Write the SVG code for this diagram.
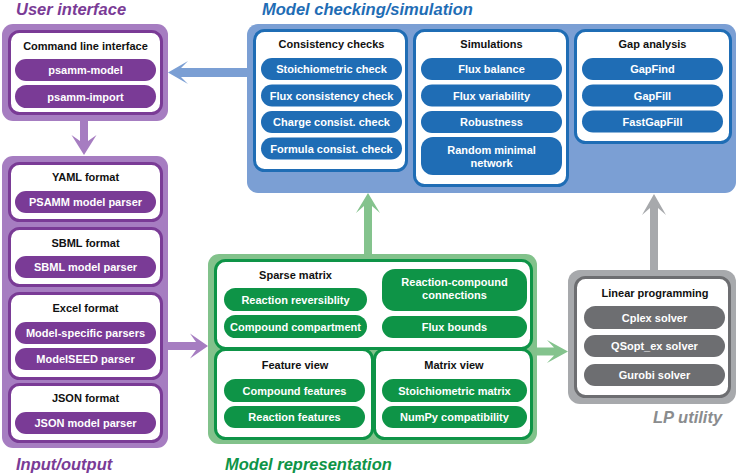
<svg xmlns="http://www.w3.org/2000/svg" width="739" height="475" viewBox="0 0 739 475">
<style>
text{font-family:"Liberation Sans",Arial,sans-serif;font-weight:bold;}
.lbl{font-size:16.5px;font-style:italic;}
.ttl{font-size:11px;fill:#111;text-anchor:middle;}
.pt{font-size:11px;fill:#fff;text-anchor:middle;}
.ring{fill:#fff;stroke-width:3;}
.pu .ring{stroke:#7a3b96;} .pu .pill{fill:#7a3b96;} .pu .outer{fill:#a67dc1;}
.bl .ring{stroke:#1f6db5;} .bl .pill{fill:#1f6db5;} .bl .outer{fill:#7b9fd4;}
.gr .ring{stroke:#0e9447;} .gr .pill{fill:#0e9447;} .gr .outer{fill:#82c28b;}
.gy .ring{stroke:#6d6e71;} .gy .pill{fill:#6d6e71;} .gy .outer{fill:#a7a9ac;}
</style>

<g id="connectors">
  <polygon fill="#7b9fd4" points="168,72.5 188,61 181,68 247,68 247,77 181,77 188,84"/>
  <polygon fill="#a67dc1" points="84,155 96.5,135 88,141 88,121 80,121 80,141 71.5,135"/>
  <polygon fill="#a67dc1" points="208,346 190,333.5 196,342 168,342 168,350 196,350 190,358.5"/>
  <polygon fill="#84c38d" points="368,193 380,213 372,206 372,254 364,254 364,206 356,213"/>
  <polygon fill="#84c38d" points="568,351.5 547,340 554,347.5 537,347.5 537,355.5 554,355.5 547,363"/>
  <polygon fill="#a7a9ac" points="654,194 666,215 658,208 658,270 650,270 650,208 642,215"/>
</g>

<g id="user-interface" class="pu">
  <text class="lbl" x="16" y="15" fill="#7a3b96">User interface</text>
  <rect class="outer" x="2" y="24" width="166" height="97" rx="11"/>
  <rect class="ring" x="9.5" y="31.5" width="152" height="82" rx="10"/>
  <text class="ttl" x="85.5" y="50">Command line interface</text>
  <rect class="pill" x="15" y="59" width="141" height="22" rx="11"/>
  <text class="pt" x="85.5" y="74">psamm-model</text>
  <rect class="pill" x="15" y="85" width="141" height="23" rx="11.5"/>
  <text class="pt" x="85.5" y="100.5">psamm-import</text>
</g>

<g id="input-output" class="pu">
  <text class="lbl" x="16" y="470" fill="#7a3b96">Input/output</text>
  <rect class="outer" x="2" y="156" width="166" height="292" rx="11"/>
  <g id="yaml">
    <rect class="ring" x="9.5" y="163.5" width="152" height="57" rx="10"/>
    <text class="ttl" x="85.5" y="181">YAML format</text>
    <rect class="pill" x="15" y="191" width="141" height="22" rx="11"/>
    <text class="pt" x="85.5" y="206">PSAMM model parser</text>
  </g>
  <g id="sbml">
    <rect class="ring" x="9.5" y="228.5" width="152" height="57" rx="10"/>
    <text class="ttl" x="85.5" y="247">SBML format</text>
    <rect class="pill" x="15" y="256" width="141" height="22" rx="11"/>
    <text class="pt" x="85.5" y="271">SBML model parser</text>
  </g>
  <g id="excel">
    <rect class="ring" x="9.5" y="293.5" width="152" height="85" rx="10"/>
    <text class="ttl" x="85.5" y="312">Excel format</text>
    <rect class="pill" x="15" y="322" width="141" height="22" rx="11"/>
    <text class="pt" x="85.5" y="337">Model-specific parsers</text>
    <rect class="pill" x="15" y="348" width="141" height="22" rx="11"/>
    <text class="pt" x="85.5" y="363">ModelSEED parser</text>
  </g>
  <g id="json">
    <rect class="ring" x="9.5" y="384.5" width="152" height="57" rx="10"/>
    <text class="ttl" x="85.5" y="402">JSON format</text>
    <rect class="pill" x="15" y="412" width="141" height="22" rx="11"/>
    <text class="pt" x="85.5" y="427">JSON model parser</text>
  </g>
</g>

<g id="model-checking" class="bl">
  <text class="lbl" x="262" y="15" fill="#1f6db5">Model checking/simulation</text>
  <rect class="outer" x="247" y="24" width="489" height="169" rx="11"/>
  <g id="consistency">
    <rect class="ring" x="254.5" y="30.5" width="152" height="140" rx="10"/>
    <text class="ttl" x="331.5" y="48">Consistency checks</text>
    <rect class="pill" x="261" y="58" width="141" height="22" rx="11"/>
    <text class="pt" x="331.5" y="73">Stoichiometric check</text>
    <rect class="pill" x="261" y="84.5" width="141" height="22" rx="11"/>
    <text class="pt" x="331.5" y="99.5">Flux consistency check</text>
    <rect class="pill" x="261" y="111" width="141" height="22" rx="11"/>
    <text class="pt" x="331.5" y="126">Charge consist. check</text>
    <rect class="pill" x="261" y="137.5" width="141" height="22" rx="11"/>
    <text class="pt" x="331.5" y="152.5">Formula consist. check</text>
  </g>
  <g id="simulations">
    <rect class="ring" x="414.5" y="30.5" width="153" height="155" rx="10"/>
    <text class="ttl" x="491.5" y="48">Simulations</text>
    <rect class="pill" x="421" y="58" width="141" height="22" rx="11"/>
    <text class="pt" x="491.5" y="73">Flux balance</text>
    <rect class="pill" x="421" y="84.5" width="141" height="22" rx="11"/>
    <text class="pt" x="491.5" y="99.5">Flux variability</text>
    <rect class="pill" x="421" y="111" width="141" height="22" rx="11"/>
    <text class="pt" x="491.5" y="126">Robustness</text>
    <rect class="pill" x="421" y="137" width="141" height="38" rx="12"/>
    <text class="pt" x="491.5" y="154">Random minimal</text>
    <text class="pt" x="491.5" y="167">network</text>
  </g>
  <g id="gap-analysis">
    <rect class="ring" x="575.5" y="30.5" width="155" height="112" rx="10"/>
    <text class="ttl" x="652.5" y="48">Gap analysis</text>
    <rect class="pill" x="582" y="58" width="141" height="22" rx="11"/>
    <text class="pt" x="652.5" y="73">GapFind</text>
    <rect class="pill" x="582" y="84.5" width="141" height="22" rx="11"/>
    <text class="pt" x="652.5" y="99.5">GapFill</text>
    <rect class="pill" x="582" y="110.5" width="141" height="22" rx="11"/>
    <text class="pt" x="652.5" y="125.5">FastGapFill</text>
  </g>
</g>

<g id="model-representation" class="gr">
  <text class="lbl" x="225" y="470" fill="#0e9447">Model representation</text>
  <rect class="outer" x="208" y="254" width="329" height="190" rx="11"/>
  <g id="sparse-matrix">
    <rect class="ring" x="215.5" y="260.5" width="316" height="88" rx="10"/>
    <text class="ttl" x="295.5" y="279">Sparse matrix</text>
    <rect class="pill" x="224" y="288" width="143" height="23" rx="11.5"/>
    <text class="pt" x="295.5" y="303.5">Reaction reversiblity</text>
    <rect class="pill" x="224" y="315" width="143" height="23" rx="11.5"/>
    <text class="pt" x="295.5" y="330.5">Compound compartment</text>
    <rect class="pill" x="382" y="269" width="145" height="42" rx="13"/>
    <text class="pt" x="454.5" y="286">Reaction-compound</text>
    <text class="pt" x="454.5" y="299">connections</text>
    <rect class="pill" x="382" y="316" width="145" height="22" rx="11"/>
    <text class="pt" x="454.5" y="331">Flux bounds</text>
  </g>
  <g id="feature-view">
    <rect class="ring" x="215.5" y="349.5" width="157" height="89" rx="10"/>
    <text class="ttl" x="295" y="369">Feature view</text>
    <rect class="pill" x="224" y="379" width="141" height="23" rx="11.5"/>
    <text class="pt" x="294.5" y="394.5">Compound features</text>
    <rect class="pill" x="224" y="406" width="141" height="22" rx="11"/>
    <text class="pt" x="294.5" y="421">Reaction features</text>
  </g>
  <g id="matrix-view">
    <rect class="ring" x="374.5" y="349.5" width="157" height="89" rx="10"/>
    <text class="ttl" x="454" y="369">Matrix view</text>
    <rect class="pill" x="382" y="379" width="145" height="23" rx="11.5"/>
    <text class="pt" x="454.5" y="394.5">Stoichiometric matrix</text>
    <rect class="pill" x="382" y="406" width="145" height="22" rx="11"/>
    <text class="pt" x="454.5" y="421">NumPy compatibility</text>
  </g>
</g>

<g id="lp-utility" class="gy">
  <text class="lbl" x="653" y="423" fill="#8a8c8e">LP utility</text>
  <rect class="outer" x="568" y="270" width="168" height="134" rx="12"/>
  <rect class="ring" x="575.5" y="277.5" width="154" height="119" rx="10"/>
  <text class="ttl" x="655" y="297">Linear programming</text>
  <rect class="pill" x="584" y="306" width="141" height="23" rx="11.5"/>
  <text class="pt" x="654.5" y="321.5">Cplex solver</text>
  <rect class="pill" x="584" y="335" width="141" height="22" rx="11"/>
  <text class="pt" x="654.5" y="350">QSopt_ex solver</text>
  <rect class="pill" x="584" y="364" width="141" height="22" rx="11"/>
  <text class="pt" x="654.5" y="379">Gurobi solver</text>
</g>
</svg>
